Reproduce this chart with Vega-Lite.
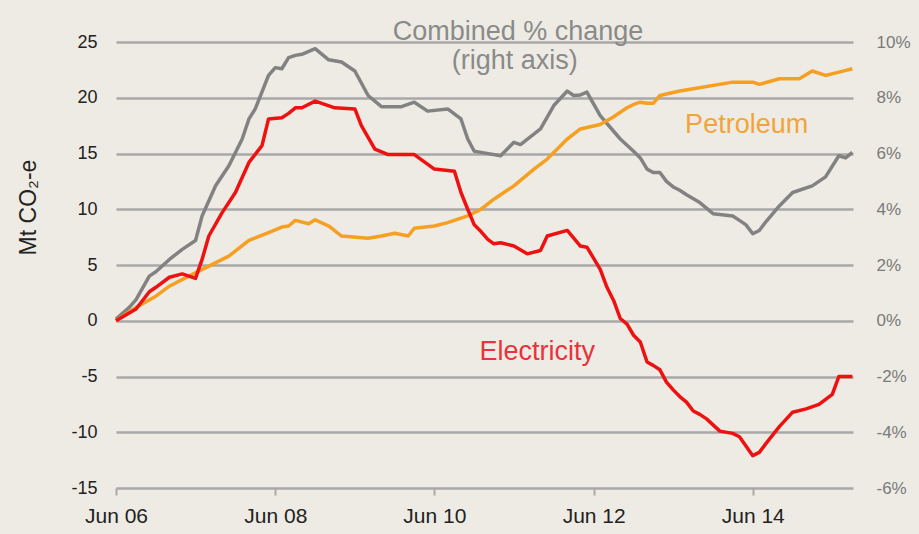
{
  "$schema": "https://vega.github.io/schema/vega-lite/v6.json",
  "width": 737,
  "height": 446,
  "autosize": {"type": "none"},
  "padding": {"left": 116, "top": 42, "right": 66, "bottom": 46},
  "background": "#EDEBE3",
  "config": {"font": "Liberation Sans", "view": {"stroke": null}},
  "datasets": {
    "combined": [
      {"d": "2006-06-01", "pct": 0.06}, {"d": "2006-08-01", "pct": 0.48}, {"d": "2006-09-01", "pct": 0.76},
      {"d": "2006-11-01", "pct": 1.6}, {"d": "2006-12-01", "pct": 1.76}, {"d": "2007-02-01", "pct": 2.2},
      {"d": "2007-04-01", "pct": 2.56}, {"d": "2007-06-01", "pct": 2.88}, {"d": "2007-07-01", "pct": 3.76},
      {"d": "2007-09-01", "pct": 4.84}, {"d": "2007-11-01", "pct": 5.56}, {"d": "2008-01-01", "pct": 6.52},
      {"d": "2008-02-01", "pct": 7.24}, {"d": "2008-03-01", "pct": 7.6}, {"d": "2008-05-01", "pct": 8.8},
      {"d": "2008-06-01", "pct": 9.08}, {"d": "2008-07-01", "pct": 9.04}, {"d": "2008-08-01", "pct": 9.44},
      {"d": "2008-09-01", "pct": 9.52}, {"d": "2008-10-01", "pct": 9.56}, {"d": "2008-12-01", "pct": 9.76},
      {"d": "2009-02-01", "pct": 9.36}, {"d": "2009-04-01", "pct": 9.28}, {"d": "2009-06-01", "pct": 8.96},
      {"d": "2009-08-01", "pct": 8.08}, {"d": "2009-10-01", "pct": 7.68}, {"d": "2010-01-01", "pct": 7.68},
      {"d": "2010-03-01", "pct": 7.84}, {"d": "2010-05-01", "pct": 7.52}, {"d": "2010-08-01", "pct": 7.6},
      {"d": "2010-10-01", "pct": 7.24}, {"d": "2010-11-01", "pct": 6.52}, {"d": "2010-12-01", "pct": 6.08},
      {"d": "2011-01-01", "pct": 6.04}, {"d": "2011-04-01", "pct": 5.92}, {"d": "2011-06-01", "pct": 6.4},
      {"d": "2011-07-01", "pct": 6.32}, {"d": "2011-10-01", "pct": 6.88}, {"d": "2011-12-01", "pct": 7.72},
      {"d": "2012-02-01", "pct": 8.24}, {"d": "2012-03-01", "pct": 8.08}, {"d": "2012-04-01", "pct": 8.1},
      {"d": "2012-05-01", "pct": 8.2}, {"d": "2012-07-01", "pct": 7.36}, {"d": "2012-10-01", "pct": 6.52},
      {"d": "2012-12-01", "pct": 6.08}, {"d": "2013-01-01", "pct": 5.84}, {"d": "2013-02-01", "pct": 5.44},
      {"d": "2013-03-01", "pct": 5.32}, {"d": "2013-04-01", "pct": 5.32}, {"d": "2013-05-01", "pct": 5.0},
      {"d": "2013-06-01", "pct": 4.8}, {"d": "2013-07-01", "pct": 4.68}, {"d": "2013-08-01", "pct": 4.52},
      {"d": "2013-10-01", "pct": 4.24}, {"d": "2013-12-01", "pct": 3.84}, {"d": "2014-03-01", "pct": 3.76},
      {"d": "2014-04-01", "pct": 3.6}, {"d": "2014-05-01", "pct": 3.44}, {"d": "2014-06-01", "pct": 3.12},
      {"d": "2014-07-01", "pct": 3.24}, {"d": "2014-08-01", "pct": 3.56}, {"d": "2014-10-01", "pct": 4.12},
      {"d": "2014-12-01", "pct": 4.6}, {"d": "2015-03-01", "pct": 4.84}, {"d": "2015-05-01", "pct": 5.16},
      {"d": "2015-07-01", "pct": 5.92}, {"d": "2015-08-01", "pct": 5.84}, {"d": "2015-09-01", "pct": 6.04}
    ],
    "sectors": [
      {"s": "Petroleum", "d": "2006-06-01", "v": 0}, {"s": "Petroleum", "d": "2006-09-01", "v": 1.2},
      {"s": "Petroleum", "d": "2006-12-01", "v": 2.2}, {"s": "Petroleum", "d": "2007-02-01", "v": 3.1},
      {"s": "Petroleum", "d": "2007-05-01", "v": 4.0}, {"s": "Petroleum", "d": "2007-08-01", "v": 4.9},
      {"s": "Petroleum", "d": "2007-11-01", "v": 5.8}, {"s": "Petroleum", "d": "2008-02-01", "v": 7.2},
      {"s": "Petroleum", "d": "2008-05-01", "v": 7.9}, {"s": "Petroleum", "d": "2008-07-01", "v": 8.4},
      {"s": "Petroleum", "d": "2008-08-01", "v": 8.5}, {"s": "Petroleum", "d": "2008-09-01", "v": 9.0},
      {"s": "Petroleum", "d": "2008-11-01", "v": 8.7}, {"s": "Petroleum", "d": "2008-12-01", "v": 9.05},
      {"s": "Petroleum", "d": "2009-02-01", "v": 8.5}, {"s": "Petroleum", "d": "2009-04-01", "v": 7.6},
      {"s": "Petroleum", "d": "2009-08-01", "v": 7.4}, {"s": "Petroleum", "d": "2009-10-01", "v": 7.6},
      {"s": "Petroleum", "d": "2009-12-01", "v": 7.85}, {"s": "Petroleum", "d": "2010-02-01", "v": 7.6},
      {"s": "Petroleum", "d": "2010-03-01", "v": 8.3}, {"s": "Petroleum", "d": "2010-06-01", "v": 8.5},
      {"s": "Petroleum", "d": "2010-08-01", "v": 8.8}, {"s": "Petroleum", "d": "2010-11-01", "v": 9.4},
      {"s": "Petroleum", "d": "2010-12-01", "v": 9.7}, {"s": "Petroleum", "d": "2011-01-01", "v": 10.0},
      {"s": "Petroleum", "d": "2011-03-01", "v": 10.9}, {"s": "Petroleum", "d": "2011-06-01", "v": 12.1},
      {"s": "Petroleum", "d": "2011-09-01", "v": 13.6}, {"s": "Petroleum", "d": "2011-11-01", "v": 14.5},
      {"s": "Petroleum", "d": "2012-02-01", "v": 16.3}, {"s": "Petroleum", "d": "2012-04-01", "v": 17.2},
      {"s": "Petroleum", "d": "2012-07-01", "v": 17.6}, {"s": "Petroleum", "d": "2012-09-01", "v": 18.3},
      {"s": "Petroleum", "d": "2012-10-01", "v": 18.7}, {"s": "Petroleum", "d": "2012-11-01", "v": 19.1},
      {"s": "Petroleum", "d": "2012-12-01", "v": 19.4}, {"s": "Petroleum", "d": "2013-01-01", "v": 19.6},
      {"s": "Petroleum", "d": "2013-02-01", "v": 19.5}, {"s": "Petroleum", "d": "2013-03-01", "v": 19.5},
      {"s": "Petroleum", "d": "2013-04-01", "v": 20.2}, {"s": "Petroleum", "d": "2013-07-01", "v": 20.6},
      {"s": "Petroleum", "d": "2013-09-01", "v": 20.8}, {"s": "Petroleum", "d": "2014-03-01", "v": 21.4},
      {"s": "Petroleum", "d": "2014-06-01", "v": 21.4}, {"s": "Petroleum", "d": "2014-07-01", "v": 21.2},
      {"s": "Petroleum", "d": "2014-10-01", "v": 21.7}, {"s": "Petroleum", "d": "2015-01-01", "v": 21.7},
      {"s": "Petroleum", "d": "2015-03-01", "v": 22.4}, {"s": "Petroleum", "d": "2015-05-01", "v": 22.0},
      {"s": "Petroleum", "d": "2015-07-01", "v": 22.3}, {"s": "Petroleum", "d": "2015-09-01", "v": 22.6},
      {"s": "Electricity", "d": "2006-06-01", "v": 0}, {"s": "Electricity", "d": "2006-09-01", "v": 1.05},
      {"s": "Electricity", "d": "2006-11-01", "v": 2.6}, {"s": "Electricity", "d": "2006-12-01", "v": 3.0},
      {"s": "Electricity", "d": "2007-02-01", "v": 3.9}, {"s": "Electricity", "d": "2007-04-01", "v": 4.2},
      {"s": "Electricity", "d": "2007-06-01", "v": 3.8}, {"s": "Electricity", "d": "2007-07-01", "v": 5.5},
      {"s": "Electricity", "d": "2007-08-01", "v": 7.6}, {"s": "Electricity", "d": "2007-10-01", "v": 9.7},
      {"s": "Electricity", "d": "2007-12-01", "v": 11.5}, {"s": "Electricity", "d": "2008-02-01", "v": 14.2},
      {"s": "Electricity", "d": "2008-04-01", "v": 15.7}, {"s": "Electricity", "d": "2008-05-01", "v": 18.1},
      {"s": "Electricity", "d": "2008-07-01", "v": 18.2}, {"s": "Electricity", "d": "2008-08-01", "v": 18.6},
      {"s": "Electricity", "d": "2008-09-01", "v": 19.1}, {"s": "Electricity", "d": "2008-10-01", "v": 19.1},
      {"s": "Electricity", "d": "2008-12-01", "v": 19.7}, {"s": "Electricity", "d": "2009-03-01", "v": 19.1},
      {"s": "Electricity", "d": "2009-06-01", "v": 19.0}, {"s": "Electricity", "d": "2009-07-01", "v": 17.5},
      {"s": "Electricity", "d": "2009-09-01", "v": 15.4}, {"s": "Electricity", "d": "2009-11-01", "v": 14.9},
      {"s": "Electricity", "d": "2010-03-01", "v": 14.9}, {"s": "Electricity", "d": "2010-06-01", "v": 13.6},
      {"s": "Electricity", "d": "2010-09-01", "v": 13.4}, {"s": "Electricity", "d": "2010-10-01", "v": 11.5},
      {"s": "Electricity", "d": "2010-11-01", "v": 10.0}, {"s": "Electricity", "d": "2010-12-01", "v": 8.6},
      {"s": "Electricity", "d": "2011-01-01", "v": 8.0}, {"s": "Electricity", "d": "2011-02-01", "v": 7.3},
      {"s": "Electricity", "d": "2011-03-01", "v": 6.9}, {"s": "Electricity", "d": "2011-04-01", "v": 7.0},
      {"s": "Electricity", "d": "2011-06-01", "v": 6.7}, {"s": "Electricity", "d": "2011-08-01", "v": 6.0},
      {"s": "Electricity", "d": "2011-10-01", "v": 6.3}, {"s": "Electricity", "d": "2011-11-01", "v": 7.6},
      {"s": "Electricity", "d": "2012-02-01", "v": 8.1}, {"s": "Electricity", "d": "2012-04-01", "v": 6.7},
      {"s": "Electricity", "d": "2012-05-01", "v": 6.6}, {"s": "Electricity", "d": "2012-06-01", "v": 5.6},
      {"s": "Electricity", "d": "2012-07-01", "v": 4.6}, {"s": "Electricity", "d": "2012-08-01", "v": 3.0},
      {"s": "Electricity", "d": "2012-09-01", "v": 1.8}, {"s": "Electricity", "d": "2012-10-01", "v": 0.2},
      {"s": "Electricity", "d": "2012-11-01", "v": -0.3}, {"s": "Electricity", "d": "2012-12-01", "v": -1.3},
      {"s": "Electricity", "d": "2013-01-01", "v": -1.9}, {"s": "Electricity", "d": "2013-02-01", "v": -3.7},
      {"s": "Electricity", "d": "2013-03-01", "v": -4.0}, {"s": "Electricity", "d": "2013-04-01", "v": -4.4},
      {"s": "Electricity", "d": "2013-05-01", "v": -5.5}, {"s": "Electricity", "d": "2013-06-01", "v": -6.2},
      {"s": "Electricity", "d": "2013-07-01", "v": -6.8}, {"s": "Electricity", "d": "2013-08-01", "v": -7.3},
      {"s": "Electricity", "d": "2013-09-01", "v": -8.1}, {"s": "Electricity", "d": "2013-10-01", "v": -8.4},
      {"s": "Electricity", "d": "2013-11-01", "v": -8.8}, {"s": "Electricity", "d": "2014-01-01", "v": -9.9},
      {"s": "Electricity", "d": "2014-03-01", "v": -10.1}, {"s": "Electricity", "d": "2014-04-01", "v": -10.4},
      {"s": "Electricity", "d": "2014-06-01", "v": -12.1}, {"s": "Electricity", "d": "2014-07-01", "v": -11.8},
      {"s": "Electricity", "d": "2014-08-01", "v": -11.0}, {"s": "Electricity", "d": "2014-10-01", "v": -9.5},
      {"s": "Electricity", "d": "2014-12-01", "v": -8.2}, {"s": "Electricity", "d": "2015-02-01", "v": -7.9},
      {"s": "Electricity", "d": "2015-04-01", "v": -7.5}, {"s": "Electricity", "d": "2015-06-01", "v": -6.6},
      {"s": "Electricity", "d": "2015-07-01", "v": -5.0}, {"s": "Electricity", "d": "2015-08-01", "v": -5.0},
      {"s": "Electricity", "d": "2015-09-01", "v": -5.0}
    ],
    "labels": [
      {"t": "Combined % change", "d": "2011-06-20", "v": 25.9, "c": "#8A8A8A"},
      {"t": "(right axis)", "d": "2011-06-05", "v": 23.3, "c": "#8A8A8A"},
      {"t": "Petroleum", "d": "2014-05-04", "v": 17.6, "c": "#F2A43A"},
      {"t": "Electricity", "d": "2011-09-16", "v": -2.8, "c": "#E8323C"}
    ]
  },
  "encoding": {
    "x": {
      "field": "d",
      "type": "temporal",
      "scale": {
        "type": "utc",
        "domain": [
          {"year": 2006, "month": 6, "date": 1, "utc": true},
          {"year": 2015, "month": 9, "date": 4, "utc": true}
        ],
        "nice": false
      },
      "axis": {
        "values": [
          {"year": 2006, "month": 6, "date": 1, "utc": true},
          {"year": 2008, "month": 6, "date": 1, "utc": true},
          {"year": 2010, "month": 6, "date": 1, "utc": true},
          {"year": 2012, "month": 6, "date": 1, "utc": true},
          {"year": 2014, "month": 6, "date": 1, "utc": true}
        ],
        "labelExpr": "utcFormat(datum.value, '%b %y')",
        "grid": false,
        "domain": false,
        "tickSize": 7,
        "tickColor": "#A8A8A8",
        "tickWidth": 2,
        "labelFontSize": 21,
        "labelColor": "#222222",
        "labelPadding": 10,
        "labelFlush": false,
        "labelOverlap": false,
        "title": null
      }
    }
  },
  "layer": [
    {
      "data": {"name": "combined"},
      "mark": {"type": "line", "color": "#828282", "strokeWidth": 3.5, "strokeJoin": "round"},
      "encoding": {
        "y": {
          "field": "pct",
          "type": "quantitative",
          "scale": {"domain": [-6, 10], "nice": false, "zero": false},
          "axis": {
            "orient": "right",
            "values": [-6, -4, -2, 0, 2, 4, 6, 8, 10],
            "labelExpr": "datum.value + '%'",
            "grid": false,
            "domain": false,
            "ticks": false,
            "labelPadding": 23,
            "labelFontSize": 17,
            "labelColor": "#7A7A7A",
            "title": null
          }
        }
      }
    },
    {
      "encoding": {
        "y": {
          "field": "v",
          "type": "quantitative",
          "scale": {"domain": [-15, 25], "nice": false, "zero": false},
          "axis": {
            "orient": "left",
            "values": [-15, -10, -5, 0, 5, 10, 15, 20, 25],
            "labelExpr": "'' + datum.value",
            "grid": true,
            "gridColor": "#A8A8A8",
            "gridWidth": 2.5,
            "domain": false,
            "ticks": false,
            "labelPadding": 19,
            "labelFontSize": 18,
            "labelColor": "#222222",
            "title": "Mt CO₂-e",
            "titleFontSize": 23,
            "titleFontWeight": "normal",
            "titleColor": "#222222",
            "titleAngle": -90,
            "titleX": -88,
            "titleY": 165,
            "titleAlign": "center",
            "titleBaseline": "middle"
          }
        }
      },
      "layer": [
        {
          "data": {"name": "sectors"},
          "mark": {"type": "line", "strokeWidth": 3.5, "strokeJoin": "round"},
          "encoding": {
            "color": {
              "field": "s",
              "type": "nominal",
              "scale": {"domain": ["Petroleum", "Electricity"], "range": ["#F5A023", "#EE1111"]},
              "legend": null
            }
          }
        },
        {
          "data": {"name": "labels"},
          "mark": {"type": "text", "fontSize": 27, "align": "center", "baseline": "middle"},
          "encoding": {
            "text": {"field": "t", "type": "nominal"},
            "color": {"field": "c", "type": "nominal", "scale": null}
          }
        }
      ]
    }
  ],
  "resolve": {"scale": {"y": "independent", "color": "independent"}}
}
